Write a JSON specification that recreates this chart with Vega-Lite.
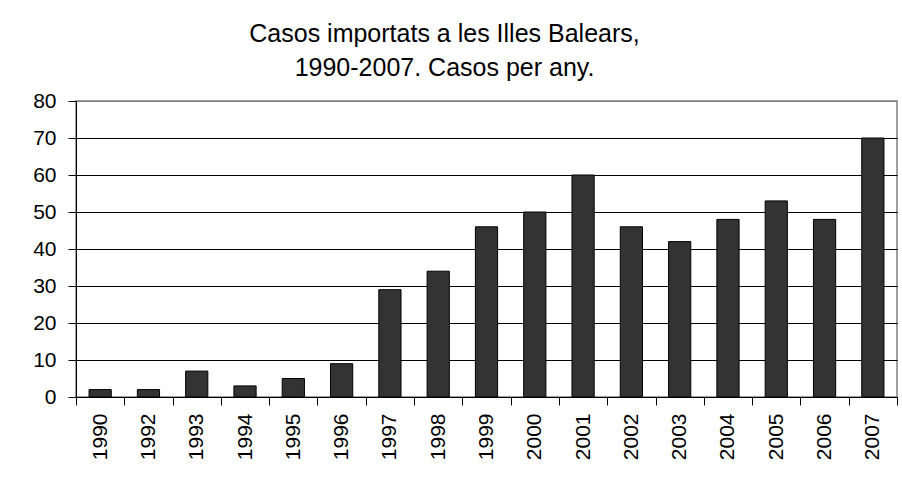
{
  "$schema": "https://vega.github.io/schema/vega-lite/v6.json",
  "width": 821,
  "height": 296,
  "autosize": "none",
  "padding": {"left": 76, "top": 101, "right": 5, "bottom": 80},
  "background": "white",
  "title": {
    "text": ["Casos importats a les Illes Balears,", "1990-2007. Casos per any."],
    "font": "Liberation Sans",
    "fontSize": 25,
    "fontWeight": "normal",
    "color": "black",
    "anchor": "middle",
    "frame": "group",
    "dx": -42,
    "dy": 34,
    "baseline": "bottom",
    "lineHeight": 34,
    "offset": 18
  },
  "data": {
    "values": [
      {"any": "1990", "casos": 2},
      {"any": "1992", "casos": 2},
      {"any": "1993", "casos": 7},
      {"any": "1994", "casos": 3},
      {"any": "1995", "casos": 5},
      {"any": "1996", "casos": 9},
      {"any": "1997", "casos": 29},
      {"any": "1998", "casos": 34},
      {"any": "1999", "casos": 46},
      {"any": "2000", "casos": 50},
      {"any": "2001", "casos": 60},
      {"any": "2002", "casos": 46},
      {"any": "2003", "casos": 42},
      {"any": "2004", "casos": 48},
      {"any": "2005", "casos": 53},
      {"any": "2006", "casos": 48},
      {"any": "2007", "casos": 70}
    ]
  },
  "mark": {"type": "bar", "fill": "#333333", "stroke": "black", "strokeWidth": 1, "width": {"band": 0.46}},
  "encoding": {
    "x": {
      "field": "any",
      "type": "ordinal",
      "sort": null,
      "scale": {"paddingInner": 0, "paddingOuter": 0},
      "axis": {
        "title": null,
        "labelAngle": -90,
        "labelAlign": "right",
        "labelBaseline": "middle",
        "labelFont": "Liberation Sans",
        "labelFontSize": 21,
        "labelColor": "black",
        "labelPadding": 8,
        "tickBand": "extent",
        "tickSize": 8,
        "tickColor": "black",
        "domainColor": "black",
        "grid": false
      }
    },
    "y": {
      "field": "casos",
      "type": "quantitative",
      "scale": {"domain": [0, 80], "nice": false},
      "axis": {
        "title": null,
        "values": [0, 10, 20, 30, 40, 50, 60, 70, 80],
        "labelFont": "Liberation Sans",
        "labelFontSize": 21,
        "labelColor": "black",
        "labelPadding": 12,
        "tickSize": 8,
        "tickColor": "black",
        "domainColor": "black",
        "grid": true,
        "gridColor": {"condition": {"test": "datum.value == 80", "value": "#808080"}, "value": "black"},
        "gridOpacity": 1
      }
    }
  },
  "config": {
    "view": {"stroke": "#808080", "strokeWidth": 1.5}
  }
}
